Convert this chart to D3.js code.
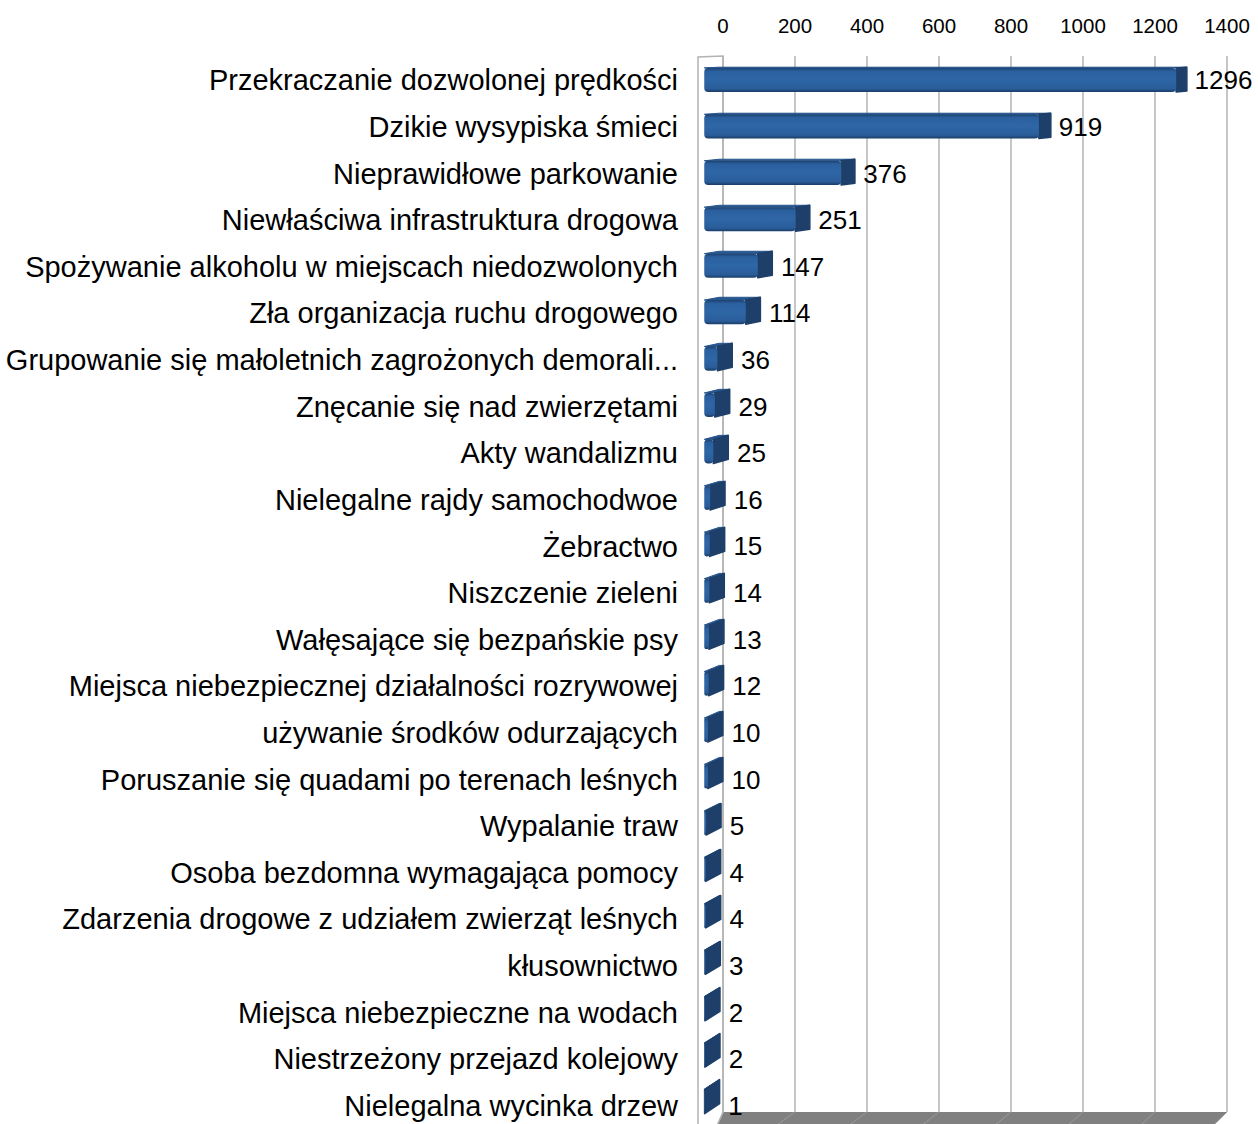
<!DOCTYPE html>
<html>
<head>
<meta charset="utf-8">
<script src="https://cdn.jsdelivr.net/npm/d3@7"></script>
<style>
    body { margin: 0; background: #fff; }
    svg { display: block; font-family: "Liberation Sans", Arial, sans-serif; }
</style>
</head>
<body>
<svg id="chart" width="1258" height="1124"></svg>
<script>
var categories = [
    "Przekraczanie dozwolonej prędkości",
    "Dzikie wysypiska śmieci",
    "Nieprawidłowe parkowanie",
    "Niewłaściwa infrastruktura drogowa",
    "Spożywanie alkoholu w miejscach niedozwolonych",
    "Zła organizacja ruchu drogowego",
    "Grupowanie się małoletnich zagrożonych demorali...",
    "Znęcanie się nad zwierzętami",
    "Akty wandalizmu",
    "Nielegalne rajdy samochodwoe",
    "Żebractwo",
    "Niszczenie zieleni",
    "Wałęsające się bezpańskie psy",
    "Miejsca niebezpiecznej działalności rozrywowej",
    "używanie środków odurzających",
    "Poruszanie się quadami po terenach leśnych",
    "Wypalanie traw",
    "Osoba bezdomna wymagająca pomocy",
    "Zdarzenia drogowe z udziałem zwierząt leśnych",
    "kłusownictwo",
    "Miejsca niebezpieczne na wodach",
    "Niestrzeżony przejazd kolejowy",
    "Nielegalna wycinka drzew"
];

var values = [1296, 919, 376, 251, 147, 114, 36, 29, 25, 16, 15, 14, 13, 12, 10, 10, 5, 4, 4, 3, 2, 2, 1];

var tick_values = [0, 200, 400, 600, 800, 1000, 1200, 1400];

var svg = d3.select("#chart");

// scales are on the back wall, project() pulls points toward the viewer
var x = d3.scaleLinear().domain([0, 1400]).range([723, 1227]);
var y = d3.scaleBand().domain(categories).range([56, 1112])
    .paddingInner(0.48).paddingOuter(0.24);

var VP = [2373, -10];
var DEPTH = 1 / 66;

function project(px, py, z) {
    // z = 1 is the back wall, z = 0 the front edge
    var s = 1 + (1 - z) * DEPTH;
    return [VP[0] + (px - VP[0]) * s, VP[1] + (py - VP[1]) * s];
}

function poly(points) {
    return points.map(function(p) { return p[0].toFixed(2) + "," + p[1].toFixed(2); }).join(" ");
}

var defs = svg.append("defs");
var grad = defs.append("linearGradient")
    .attr("id", "bar-front")
    .attr("x1", 0).attr("y1", 0).attr("x2", 0).attr("y2", 1);
[[0, "#1c416f"], [0.14, "#2b609f"], [0.5, "#2e66a6"], [0.86, "#2a5d9a"], [1, "#1a3d68"]]
    .forEach(function(s) {
        grad.append("stop").attr("offset", s[0]).attr("stop-color", s[1]);
    });

var y0 = y.range()[0], y1 = y.range()[1];
var x0 = x(0), x1 = x(1400);

// floor
svg.append("polygon")
    .attr("points", poly([project(x0, y1, 1), project(x1, y1, 1), project(x1, y1, 0), project(x0, y1, 0)]))
    .attr("fill", "#808080");

svg.append("g").selectAll("line")
    .data(tick_values)
    .enter().append("line")
    .attr("x1", function(d) { return project(x(d), y1, 1)[0]; })
    .attr("y1", function(d) { return project(x(d), y1, 1)[1]; })
    .attr("x2", function(d) { return project(x(d), y1, 0)[0]; })
    .attr("y2", function(d) { return project(x(d), y1, 0)[1]; })
    .attr("stroke", "#9a9a9a")
    .attr("stroke-width", 1);

// left wall
svg.append("polygon")
    .attr("points", poly([project(x0, y0, 1), project(x0, y0, 0), project(x0, y1 + 40, 0), project(x0, y1, 1)]))
    .attr("fill", "#fff")
    .attr("stroke", "#b3b3b3")
    .attr("stroke-width", 1.5);

// back wall grid
svg.append("g").selectAll("line")
    .data(tick_values)
    .enter().append("line")
    .attr("x1", function(d) { return x(d); })
    .attr("x2", function(d) { return x(d); })
    .attr("y1", y0)
    .attr("y2", y1)
    .attr("stroke", "#b3b3b3")
    .attr("stroke-width", 1.5);

svg.append("g").selectAll("text")
    .data(tick_values)
    .enter().append("text")
    .attr("x", function(d) { return x(d); })
    .attr("y", 26)
    .attr("dy", "0.35em")
    .attr("text-anchor", "middle")
    .attr("font-size", 20.5)
    .attr("fill", "#000")
    .text(function(d) { return d; });

// bars
var Z_FRONT = 0.25, Z_BACK = 0.85;

var bars = svg.append("g").selectAll("g")
    .data(categories)
    .enter().append("g");

bars.each(function(c, i) {
    var g = d3.select(this);
    var v = values[i];
    var top = y(c), bottom = y(c) + y.bandwidth();
    var l = x(0), r = x(v);

    var ftl = project(l, top, Z_FRONT), ftr = project(r, top, Z_FRONT);
    var fbr = project(r, bottom, Z_FRONT), fbl = project(l, bottom, Z_FRONT);
    var btl = project(l, top, Z_BACK), btr = project(r, top, Z_BACK);
    var bbr = project(r, bottom, Z_BACK);

    g.append("polygon")
        .attr("points", poly([ftl, ftr, btr, btl]))
        .attr("fill", "#28568e")
        .attr("stroke", "#28568e")
        .attr("stroke-linejoin", "round");

    g.append("polygon")
        .attr("points", poly([ftr, btr, bbr, fbr]))
        .attr("fill", "#1e3f69")
        .attr("stroke", "#1e3f69")
        .attr("stroke-width", 1.5)
        .attr("stroke-linejoin", "round");

    g.append("rect")
        .attr("x", ftl[0])
        .attr("y", ftl[1])
        .attr("width", Math.max(ftr[0] - ftl[0], 0.5))
        .attr("height", fbl[1] - ftl[1])
        .attr("rx", Math.min(4, (ftr[0] - ftl[0]) / 2))
        .attr("fill", "url(#bar-front)");
});

// category and value labels sit on the front plane
function label_y(c) {
    return project(x(0), y(c) + y.bandwidth() / 2, 0)[1];
}

svg.append("g").selectAll("text")
    .data(categories)
    .enter().append("text")
    .attr("x", 678)
    .attr("y", label_y)
    .attr("dy", "0.35em")
    .attr("text-anchor", "end")
    .attr("font-size", 29)
    .attr("fill", "#000")
    .text(function(d) { return d; });

svg.append("g").selectAll("text")
    .data(categories)
    .enter().append("text")
    .attr("x", function(c, i) { return x(values[i]) + 5; })
    .attr("y", label_y)
    .attr("dy", "0.35em")
    .attr("font-size", 26)
    .attr("fill", "#000")
    .text(function(c, i) { return values[i]; });
</script>
</body>
</html>
